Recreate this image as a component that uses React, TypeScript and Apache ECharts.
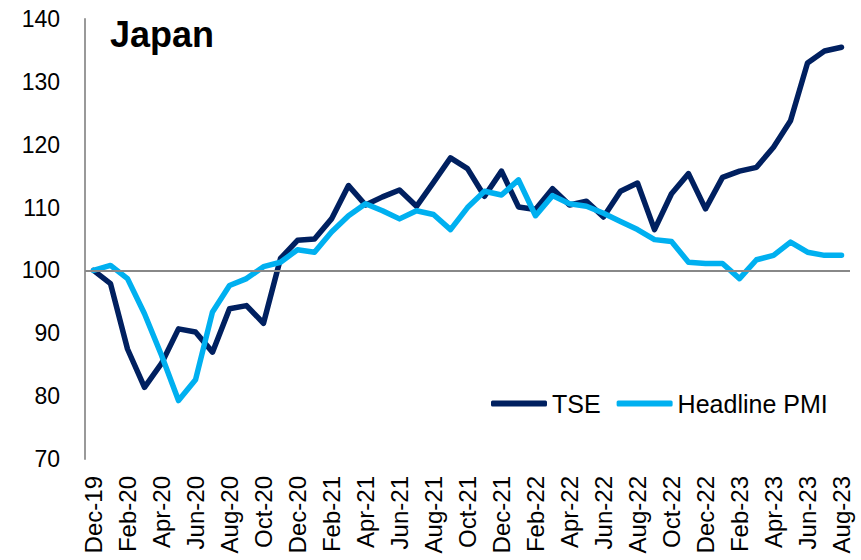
import React, { useEffect, useRef } from "react";
import * as echarts from "echarts";

const months = [
  "Dec-19", "Jan-20", "Feb-20", "Mar-20", "Apr-20", "May-20", "Jun-20", "Jul-20", "Aug-20", "Sep-20", "Oct-20", "Nov-20",
  "Dec-20", "Jan-21", "Feb-21", "Mar-21", "Apr-21", "May-21", "Jun-21", "Jul-21", "Aug-21", "Sep-21", "Oct-21", "Nov-21",
  "Dec-21", "Jan-22", "Feb-22", "Mar-22", "Apr-22", "May-22", "Jun-22", "Jul-22", "Aug-22", "Sep-22", "Oct-22", "Nov-22",
  "Dec-22", "Jan-23", "Feb-23", "Mar-23", "Apr-23", "May-23", "Jun-23", "Jul-23", "Aug-23",
];

const tse = [
  100, 97.9, 87.5, 81.4, 85.2, 90.7, 90.2, 87.0, 93.9, 94.4, 91.6, 101.9,
  104.8, 105.0, 108.2, 113.5, 110.4, 111.7, 112.8, 110.2, 114.0, 117.9, 116.2, 111.8,
  115.8, 110.1, 109.7, 113.0, 110.4, 111.0, 108.5, 112.6, 113.9, 106.5, 112.2, 115.4,
  109.8, 114.8, 115.8, 116.4, 119.6, 123.8, 133.0, 134.9, 135.5,
];

const pmi = [
  100, 100.8, 98.7, 93.1, 86.5, 79.3, 82.6, 93.4, 97.6, 98.7, 100.6, 101.3,
  103.3, 102.9, 106.1, 108.7, 110.6, 109.5, 108.2, 109.5, 108.9, 106.5, 110.0, 112.6,
  112.0, 114.4, 108.7, 111.9, 110.6, 110.2, 109.1, 107.8, 106.5, 104.9, 104.6, 101.3,
  101.1, 101.1, 98.7, 101.7, 102.4, 104.5, 102.9, 102.4, 102.4,
];

const baseLine = 100;
const FONT = "'Liberation Sans', Arial, sans-serif";

export default function App() {
  const ref = useRef<HTMLDivElement>(null);
  useEffect(() => {
    if (!ref.current) return;
    const chart = echarts.init(ref.current, null, { renderer: "svg" });
    chart.setOption({
      animation: false,
      backgroundColor: "#ffffff",
      textStyle: { fontFamily: FONT },
      title: {
        text: "Japan",
        left: 105,
        top: 11,
        textStyle: { fontFamily: FONT, fontSize: 36, fontWeight: "bold", color: "#000" },
      },
      legend: {
        data: ["TSE", "Headline PMI"],
        left: 486,
        top: 386,
        icon: "roundRect",
        itemWidth: 56,
        itemHeight: 6,
        itemGap: 16,
        textStyle: { fontFamily: FONT, fontSize: 25, color: "#000" },
      },
      grid: { left: 85, right: 11, top: 19, bottom: 101, containLabel: false },
      xAxis: {
        type: "category",
        data: months,
        boundaryGap: true,
        axisLine: { show: false },
        axisTick: { show: false },
        axisLabel: {
          interval: 1,
          rotate: 90,
          margin: 17,
          fontFamily: FONT,
          fontSize: 24,
          color: "#000",
        },
      },
      yAxis: {
        type: "value",
        min: 70,
        max: 140,
        interval: 10,
        axisLine: { show: true, lineStyle: { color: "#999", width: 2 } },
        axisTick: { show: false },
        splitLine: { show: false },
        axisLabel: { margin: 25, fontFamily: FONT, fontSize: 23, color: "#000" },
      },
      series: [
        {
          name: "base",
          type: "line",
          data: [],
          z: 1,
          silent: true,
          markLine: {
            silent: true,
            symbol: ["none", "none"],
            label: { show: false },
            lineStyle: { color: "#888", width: 2, type: "solid" },
            data: [{ yAxis: baseLine }],
          },
        },
        {
          name: "TSE",
          type: "line",
          data: tse,
          z: 3,
          symbol: "none",
          color: "#002060",
          lineStyle: { color: "#002060", width: 5.5, join: "round", cap: "round" },
        },
        {
          name: "Headline PMI",
          type: "line",
          data: pmi,
          z: 4,
          symbol: "none",
          color: "#00B0F0",
          lineStyle: { color: "#00B0F0", width: 5.5, join: "round", cap: "round" },
        },
      ],
    });
    return () => chart.dispose();
  }, []);
  return <div ref={ref} style={{ width: 861, height: 560, position: "absolute", left: 0, top: 0 }} />;
}
